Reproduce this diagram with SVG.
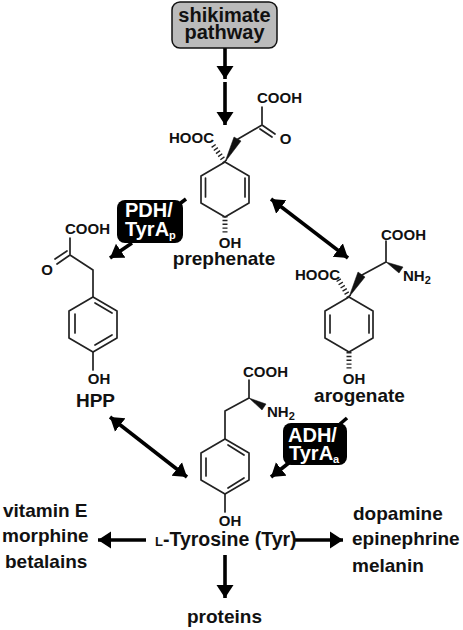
<svg xmlns="http://www.w3.org/2000/svg" width="463" height="630" viewBox="0 0 463 630">
<style>
text{font-family:"Liberation Sans",Arial,sans-serif;font-weight:700;fill:#111}
.a{font-size:15px}
.n{font-size:19px}
.m{text-anchor:middle}
.w{fill:#fff;font-size:20px}
.s{font-size:11px}
.b{fill:none;stroke:#222;stroke-width:1.7;stroke-linecap:round;stroke-linejoin:round}
.h{fill:none;stroke:#222;stroke-width:5;stroke-dasharray:1.4 2.4}
.k{fill:#111;stroke:#111}
.c{fill:none;stroke:#000;stroke-width:3.6}
.e{fill:#111}
</style>
<defs>
<marker id="ah" markerUnits="userSpaceOnUse" markerWidth="16" markerHeight="20" refX="13" refY="9" orient="auto-start-reverse"><path d="M0 0.5L13 9L0 17.5Z" fill="#000"/></marker>
<path id="ring" d="M0 0L-24 14V41L0 55L24 41V14Z"/>
</defs>
<g id="connectors">
<path class="c" d="M225 48V79" marker-end="url(#ah)"/>
<path class="c" d="M225 82V125" marker-end="url(#ah)"/>
<path class="c" d="M271 199L348 258" marker-start="url(#ah)" marker-end="url(#ah)"/>
<path class="c" d="M110 417L187 477" marker-start="url(#ah)" marker-end="url(#ah)"/>
<path class="c" d="M132 243L110 258" marker-end="url(#ah)"/>
<path class="c" d="M186 199L178 205"/>
<path class="c" d="M290 462L271 477" marker-end="url(#ah)"/>
<path class="c" d="M347 418L340 424"/>
<path class="c" d="M146 540H98" marker-end="url(#ah)"/>
<path class="c" d="M295 540H343" marker-end="url(#ah)"/>
<path class="c" d="M225 555V598" marker-end="url(#ah)"/>
</g>
<g id="shikimate">
<rect x="172" y="2" width="105" height="46" rx="8" fill="#bbb" stroke="#111" stroke-width="1.5"/>
<text class="m" x="224.500" y="22" font-size="20">shikimate</text>
<text class="m" x="224.500" y="39" font-size="20">pathway</text>
</g>
<g id="prephenate">
<use href="#ring" class="b" x="225" y="162"/>
<path class="b" d="M205.500 178V197M245 178V197M262 125V107M238 139L262 125M262 125L275 134M260 129L272 137"/>
<path class="k" stroke-width=".5" d="M225 162L234 137L241 141Z"/>
<path class="h" d="M225 162L213 145M225 216V235"/>
<text class="a" x="257" y="103">COOH</text>
<text class="a m" x="285.500" y="144">O</text>
<text class="a" x="169" y="143">HOOC</text>
<text class="a m" x="230" y="248">OH</text>
<text class="n m" x="224" y="265">prephenate</text>
</g>
<g id="pdh">
<rect x="117" y="200" width="66" height="43" rx="8" fill="#000"/>
<text class="w" x="125" y="217">PDH/</text>
<text class="w" x="125" y="236">TyrA<tspan class="s" dy="3" style="fill:#fff">p</tspan></text>
</g>
<g id="hpp">
<use href="#ring" class="b" x="93" y="297"/>
<path class="b" d="M75 314V333M95 303L112 313M95 345L112 335M70 255V238M70 255L93 270M93 270V297M70 255L57 264M67 251L55 259M93 352V370"/>
<text class="a" x="65" y="234">COOH</text>
<text class="a m" x="47" y="275">O</text>
<text class="a m" x="99" y="384">OH</text>
<text class="n m" x="95.500" y="407">HPP</text>
</g>
<g id="arogenate">
<use href="#ring" class="b" x="349" y="297"/>
<path class="b" d="M330 315V333M369 315V333M362 275L386 262M386 262V241"/>
<path class="k" stroke-width=".5" d="M349 297L358 272L365 277Z"/>
<path class="k" stroke-width=".5" d="M386 262L399 273L403 267Z"/>
<path class="h" d="M349 297L338 279M349 352V371"/>
<text class="a" x="381" y="240">COOH</text>
<text class="a" x="403" y="281">NH<tspan class="s" dy="3">2</tspan></text>
<text class="a" x="295" y="280">HOOC</text>
<text class="a m" x="354" y="384">OH</text>
<text class="n m" x="359.500" y="402">arogenate</text>
</g>
<g id="adh">
<rect x="283" y="423" width="64" height="42" rx="8" fill="#000"/>
<text class="w" x="288" y="442">ADH/</text>
<text class="w" x="289" y="460">TyrA<tspan class="s" dy="3" style="fill:#fff">a</tspan></text>
</g>
<g id="tyrosine">
<use href="#ring" class="b" x="225" y="439"/>
<path class="b" d="M206 458V476M228 445L244 455M228 488L244 478M249 398V380M249 398L225 411M225 411V439M225 494V512"/>
<path class="k" stroke-width=".5" d="M249 398L262 410L266 404Z"/>
<text class="a" x="243" y="377">COOH</text>
<text class="a" x="267" y="417">NH<tspan class="s" dy="3">2</tspan></text>
<text class="a m" x="230" y="526">OH</text>
<text x="155" y="546" font-size="13">L<tspan font-size="19.500">-Tyrosine (Tyr)</tspan></text>
</g>
<g id="left-products">
<text class="n" x="3" y="517">vitamin E</text>
<text class="n" x="2" y="542">morphine</text>
<text class="n" x="5" y="568">betalains</text>
</g>
<g id="right-products">
<text class="n" x="353" y="520">dopamine</text>
<text class="n" x="352" y="545">epinephrine</text>
<text class="n" x="352" y="572">melanin</text>
</g>
<g id="proteins">
<text class="n m" x="224.500" y="623">proteins</text>
</g>
</svg>
